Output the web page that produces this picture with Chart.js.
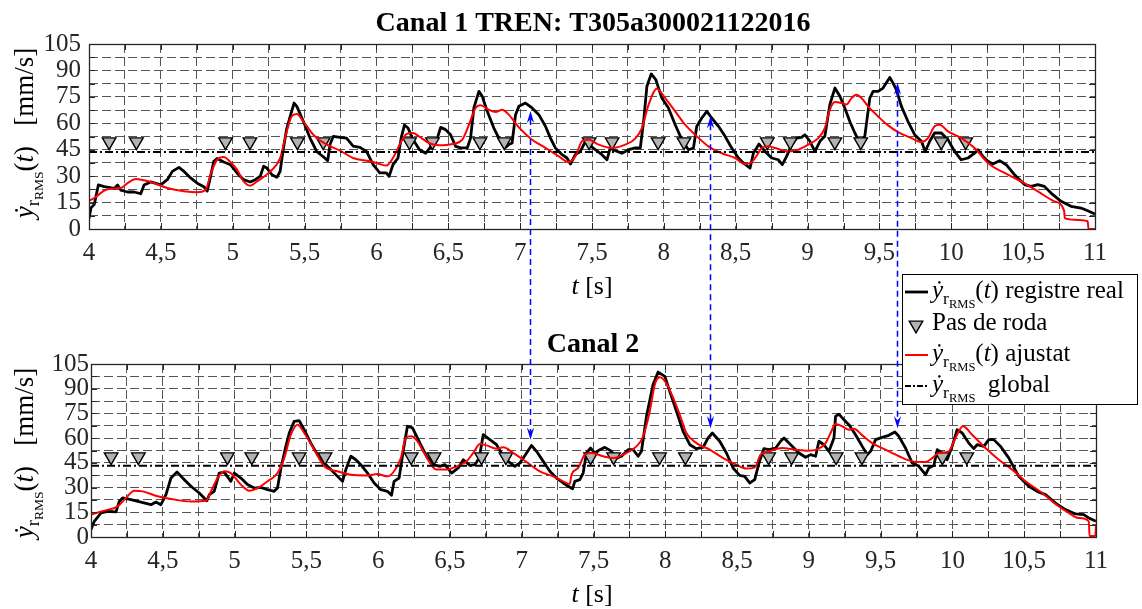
<!DOCTYPE html>
<html>
<head>
<meta charset="utf-8">
<script src="https://cdn.jsdelivr.net/npm/chart.js@4.4.0/dist/chart.umd.min.js"></script>
<style>
  html, body { margin: 0; padding: 0; background: #fff; }
  #wrap { position: relative; width: 1142px; height: 609px; }
  #wrap canvas { position: absolute; left: 0; top: 0; }
</style>
</head>
<body>
<div id="wrap">
  <canvas id="canal1" width="1142" height="609"></canvas>
  <canvas id="canal2" width="1142" height="609"></canvas>
</div>
<script>
// Canal 1: registre real (temps [s], velocitat RMS [mm/s])
const tReal1 = [4.000, 4.014, 4.037, 4.065, 4.106, 4.176, 4.199, 4.222, 4.268, 4.314, 4.360, 4.383, 4.430, 4.499, 4.545, 4.580, 4.626, 4.661, 4.707, 4.753, 4.799, 4.822, 4.841, 4.868, 4.891, 4.938, 4.984, 5.030, 5.076, 5.122, 5.157, 5.192, 5.215, 5.238, 5.273, 5.307, 5.330, 5.353, 5.376, 5.404, 5.427, 5.446, 5.492, 5.538, 5.584, 5.630, 5.661, 5.677, 5.700, 5.746, 5.792, 5.838, 5.885, 5.931, 5.977, 6.023, 6.069, 6.088, 6.115, 6.150, 6.173, 6.195, 6.220, 6.250, 6.277, 6.300, 6.343, 6.389, 6.424, 6.447, 6.481, 6.516, 6.551, 6.586, 6.632, 6.655, 6.678, 6.713, 6.736, 6.771, 6.817, 6.863, 6.894, 6.921, 6.944, 6.968, 6.991, 7.037, 7.083, 7.130, 7.176, 7.211, 7.245, 7.292, 7.326, 7.350, 7.384, 7.419, 7.454, 7.477, 7.523, 7.569, 7.604, 7.627, 7.662, 7.708, 7.755, 7.801, 7.836, 7.859, 7.882, 7.912, 7.944, 7.986, 8.032, 8.079, 8.125, 8.171, 8.206, 8.229, 8.264, 8.299, 8.333, 8.380, 8.426, 8.472, 8.519, 8.553, 8.600, 8.623, 8.662, 8.704, 8.750, 8.796, 8.824, 8.854, 8.889, 8.924, 8.958, 8.981, 9.016, 9.051, 9.086, 9.120, 9.155, 9.190, 9.225, 9.259, 9.294, 9.329, 9.363, 9.398, 9.433, 9.456, 9.491, 9.525, 9.572, 9.595, 9.618, 9.653, 9.699, 9.745, 9.792, 9.819, 9.850, 9.884, 9.931, 9.977, 10.023, 10.069, 10.116, 10.162, 10.185, 10.220, 10.255, 10.289, 10.336, 10.382, 10.440, 10.509, 10.556, 10.602, 10.648, 10.694, 10.764, 10.833, 10.903, 10.949, 11.000];
const yReal1 = [6, 12, 14, 25, 24, 23, 25, 22, 21, 21, 20, 25, 26.7, 25, 28, 32.7, 35, 32.7, 29, 26, 24, 21.5, 28, 38.4, 40, 38, 36.5, 31.8, 28, 26.7, 28, 30, 35.6, 34.6, 30.8, 29.3, 32.7, 46, 57, 65, 71.5, 69.6, 61, 51.6, 44, 41, 38.8, 47.9, 52.6, 52, 51.6, 47, 46.3, 44, 36.5, 31.8, 31.8, 29.9, 36.5, 40.3, 52, 59, 57.3, 51.6, 47.9, 45, 43, 47.9, 51.6, 57.7, 56.4, 53.5, 46.9, 46, 46, 51.6, 68.7, 78.1, 75.3, 66.8, 57.3, 49.8, 46, 47.9, 48.8, 64.9, 69.6, 71.5, 68.7, 64.9, 58.3, 51.6, 46, 42.2, 40.3, 36.9, 42.2, 44, 49.8, 48.2, 45, 42.2, 39.3, 46, 44.5, 43, 45, 46, 46, 61, 81, 88, 84.8, 74.3, 68.7, 59.2, 50.7, 45, 46, 58.3, 63, 66.8, 63, 58.3, 52.6, 46, 40.3, 37.5, 34.6, 43, 48.2, 44, 40.3, 39.3, 36.5, 41.2, 47.9, 51.6, 52, 53.5, 49.8, 44, 49.8, 52.6, 70.6, 80, 75.3, 68.7, 61, 54.5, 48.8, 52.6, 74.3, 78.1, 78.1, 80, 86, 82.8, 79, 69.6, 61, 53.5, 49.8, 44, 49.8, 54.5, 54.5, 50.7, 44, 39.3, 40.3, 43, 45, 41.2, 38.4, 36.9, 38.8, 36.5, 30.8, 25.2, 24.2, 25.2, 24.2, 20.4, 15.7, 12.9, 11.9, 10.4, 8.5];

// Canal 1: corba ajustada
const tFit1 = [4.000, 4.037, 4.106, 4.152, 4.222, 4.268, 4.326, 4.430, 4.545, 4.661, 4.753, 4.811, 4.845, 4.891, 4.938, 4.984, 5.030, 5.076, 5.122, 5.169, 5.261, 5.330, 5.376, 5.411, 5.446, 5.492, 5.561, 5.654, 5.746, 5.838, 5.954, 6.023, 6.069, 6.115, 6.162, 6.208, 6.254, 6.296, 6.366, 6.435, 6.528, 6.597, 6.644, 6.690, 6.725, 6.782, 6.829, 6.875, 6.921, 6.991, 7.083, 7.176, 7.269, 7.338, 7.384, 7.431, 7.477, 7.546, 7.639, 7.731, 7.801, 7.847, 7.894, 7.951, 8.009, 8.079, 8.148, 8.218, 8.310, 8.403, 8.495, 8.565, 8.611, 8.657, 8.681, 8.727, 8.773, 8.866, 8.935, 9.005, 9.074, 9.120, 9.155, 9.190, 9.236, 9.271, 9.306, 9.340, 9.375, 9.421, 9.491, 9.560, 9.630, 9.722, 9.792, 9.838, 9.884, 9.919, 9.977, 10.069, 10.162, 10.255, 10.394, 10.486, 10.602, 10.718, 10.785, 10.790, 10.856, 10.949, 10.955, 11.000];
const yFit1 = [16, 17.6, 21.8, 22.9, 23.3, 26, 28.4, 26.7, 23.3, 21.4, 20.8, 22.1, 30.8, 39.3, 40.9, 38, 33.7, 27, 24.6, 27, 32.7, 40.3, 55.4, 64, 65.3, 61, 53.5, 47.9, 44.5, 40.3, 38.4, 36.9, 36, 40.3, 47.9, 53.9, 54.5, 52.6, 48.8, 47.5, 48.2, 50.7, 59.2, 68.7, 70.2, 67.7, 66.4, 67.7, 64.9, 57.7, 50.7, 46, 41.2, 38, 41.2, 49.8, 50.7, 47.9, 46, 47.9, 51.3, 57.3, 70.6, 79.6, 74.3, 66.8, 59.2, 53.5, 46.9, 43, 40.3, 36.9, 38, 43, 46, 46.9, 46, 44, 45, 47.9, 51.6, 57.3, 67.7, 72.1, 71.5, 70.6, 74.3, 76.2, 74.3, 69.6, 63.9, 58.8, 55, 51.6, 49.4, 51.6, 58.3, 59.2, 55.4, 51.6, 46, 37.5, 30.8, 27, 21.4, 15.7, 10.4, 6.2, 5.3, 4.4, 0, 0];

// Canal 2: registre real
const tReal2 = [4.000, 4.023, 4.070, 4.116, 4.174, 4.197, 4.220, 4.278, 4.348, 4.418, 4.452, 4.487, 4.522, 4.557, 4.599, 4.650, 4.696, 4.754, 4.807, 4.824, 4.858, 4.893, 4.928, 4.974, 4.998, 5.044, 5.090, 5.137, 5.183, 5.230, 5.276, 5.299, 5.323, 5.357, 5.381, 5.415, 5.450, 5.485, 5.531, 5.578, 5.624, 5.671, 5.717, 5.752, 5.775, 5.810, 5.845, 5.879, 5.926, 5.972, 6.019, 6.065, 6.093, 6.111, 6.146, 6.176, 6.204, 6.239, 6.274, 6.291, 6.338, 6.384, 6.430, 6.465, 6.512, 6.558, 6.593, 6.639, 6.674, 6.704, 6.732, 6.778, 6.825, 6.871, 6.906, 6.952, 6.987, 7.034, 7.068, 7.103, 7.150, 7.196, 7.242, 7.289, 7.324, 7.354, 7.370, 7.405, 7.428, 7.451, 7.479, 7.509, 7.544, 7.579, 7.625, 7.660, 7.695, 7.741, 7.776, 7.811, 7.834, 7.869, 7.915, 7.950, 7.997, 8.031, 8.078, 8.124, 8.171, 8.217, 8.263, 8.298, 8.328, 8.379, 8.426, 8.472, 8.518, 8.553, 8.588, 8.623, 8.653, 8.687, 8.722, 8.769, 8.803, 8.827, 8.861, 8.896, 8.931, 8.977, 9.012, 9.047, 9.070, 9.105, 9.140, 9.175, 9.186, 9.209, 9.244, 9.279, 9.325, 9.372, 9.407, 9.430, 9.465, 9.511, 9.557, 9.599, 9.627, 9.673, 9.720, 9.766, 9.813, 9.836, 9.871, 9.894, 9.929, 9.963, 9.998, 10.033, 10.068, 10.114, 10.149, 10.172, 10.219, 10.253, 10.288, 10.335, 10.393, 10.462, 10.532, 10.590, 10.648, 10.718, 10.787, 10.857, 10.915, 10.950, 11.000];
const yReal2 = [4.5, 9.5, 14.6, 15.6, 15.2, 21.6, 23.7, 22.7, 21.2, 19.6, 21.2, 19.6, 25.7, 35.8, 39.4, 34.8, 30.8, 26.7, 22, 25.7, 27.7, 38.8, 39.4, 33.8, 38.8, 35.8, 31.8, 29.7, 30.1, 28.7, 27.7, 29.7, 41.9, 55, 63.1, 70.2, 70.6, 65.1, 57, 50, 44.9, 40.9, 36.8, 33.8, 40.9, 49, 46.9, 43.9, 38.8, 32.8, 28.7, 27.7, 25.3, 33.8, 35.8, 53, 67.2, 66.2, 60.1, 57, 49, 43.9, 42.9, 43.9, 38.8, 41.9, 46.9, 43.5, 43.9, 47.9, 62.1, 59.1, 56, 49, 45.9, 42.9, 44.9, 51, 55.6, 52, 45.9, 39.9, 35.8, 32.8, 30.8, 29.3, 33.8, 34.8, 38.8, 51, 54, 51, 53, 54.4, 52, 47.9, 49, 53, 53, 49, 52, 73.2, 92.5, 100.1, 97.5, 88.4, 76.3, 64.1, 56, 53.6, 54.4, 60.1, 63.1, 58.1, 51, 41.9, 37.4, 36.8, 32.8, 34.8, 45, 53.6, 53, 54, 58.1, 60.1, 57, 54, 51, 48.4, 50, 49, 58.1, 56, 52, 60.1, 73.2, 74.6, 71.2, 68.2, 62.1, 55, 50, 52, 59.1, 60.5, 61.7, 63.7, 61.1, 54, 44.9, 42.9, 37.8, 41.9, 43.5, 53, 51, 46.9, 55, 65.1, 63.1, 57, 53.6, 56, 55, 59.1, 59.1, 55, 47.9, 36.8, 30.8, 27.7, 25.7, 20.6, 16.6, 14, 13.6, 11.5, 9.5];

// Canal 2: corba ajustada
const tFit2 = [4.000, 4.093, 4.186, 4.244, 4.302, 4.360, 4.464, 4.580, 4.696, 4.800, 4.835, 4.882, 4.928, 4.974, 5.044, 5.102, 5.160, 5.230, 5.299, 5.346, 5.392, 5.439, 5.485, 5.555, 5.624, 5.717, 5.810, 5.926, 5.995, 6.065, 6.111, 6.158, 6.193, 6.227, 6.274, 6.320, 6.407, 6.477, 6.546, 6.616, 6.662, 6.709, 6.755, 6.825, 6.871, 6.941, 7.034, 7.126, 7.219, 7.289, 7.335, 7.347, 7.393, 7.440, 7.486, 7.567, 7.637, 7.730, 7.799, 7.846, 7.892, 7.927, 7.962, 8.006, 8.055, 8.101, 8.147, 8.217, 8.310, 8.403, 8.495, 8.565, 8.623, 8.664, 8.722, 8.815, 8.908, 9.001, 9.070, 9.117, 9.151, 9.186, 9.233, 9.279, 9.314, 9.372, 9.441, 9.534, 9.627, 9.720, 9.813, 9.859, 9.905, 9.975, 10.021, 10.073, 10.137, 10.230, 10.323, 10.416, 10.509, 10.625, 10.718, 10.810, 10.880, 10.950, 10.955, 10.995, 11.000];
const yFit2 = [13.6, 16, 18.6, 23.7, 28.1, 27.7, 24.7, 22.7, 21.6, 22, 27.7, 35.8, 39.9, 38.8, 31.8, 28.1, 29.7, 33.8, 38.8, 47.9, 62.1, 68.2, 63.1, 53, 42.9, 39.9, 37.8, 37.4, 38.2, 36.8, 39.9, 47.9, 60.1, 61.1, 58.1, 51, 40.9, 40.9, 42.9, 45.9, 51, 56.4, 55.6, 53.6, 54.4, 51, 45.5, 39.9, 36.8, 33.8, 32.2, 37.8, 41.9, 50, 51, 49, 47.9, 51, 55, 61.1, 76.3, 92.5, 96.9, 93.5, 84.4, 74.2, 63.1, 57, 53, 47.9, 43.9, 41.5, 42.3, 50, 52, 54, 53, 52.4, 53.6, 57, 63.1, 68.6, 67.2, 65.1, 65.7, 61.7, 57, 53, 49, 45.9, 45.5, 47.9, 51, 52, 60.1, 67.2, 62.1, 54, 46.9, 40.9, 33.8, 26.7, 20, 14.6, 11.5, 9.5, 0.6, 0.6, 7.5];

// pas de roda (instants) i nivell on es marquen
const wheelT = [4.14, 4.33, 4.95, 5.12, 5.45, 5.63, 6.23, 6.39, 6.72, 6.89, 7.48, 7.64, 7.96, 8.14, 8.72, 8.88, 9.19, 9.37, 9.93, 10.10];
const wheelLevel = [49.5, 48.7];

// valor RMS global de cada canal
const globalRms = [43.7, 43.3];

// fletxes que relacionen els pics dels dos canals
const arrowT = [7.07, 8.32, 9.62];
const arrowFrom = [67, 64, 83];
const arrowTo = [59, 66, 66];

const SERIF = '"Liberation Serif", "DejaVu Serif", serif';
const INK = '#262626';

const pts = (ts, ys) => ts.map((t, i) => ({ x: t, y: ys[i] }));

// ---- rich text helpers (y punt amb subindex r_RMS) ----
function runsWidth(ctx, runs) {
  let w = 0;
  for (const r of runs) {
    ctx.font = `${r[2] || ''} ${r[1]}px ${SERIF}`;
    w += ctx.measureText(r[0]).width;
  }
  return w;
}
function drawRuns(ctx, runs, x, y) {
  let cx = x;
  for (const r of runs) {
    ctx.font = `${r[2] || ''} ${r[1]}px ${SERIF}`;
    ctx.fillText(r[0], cx, y + (r[3] || 0));
    cx += ctx.measureText(r[0]).width;
  }
}
const yDot = (s) => [
  ['ẏ', s, 'italic', 0],
  ['r', s * 0.7, '', s * 0.22],
  ['RMS', s * 0.5, '', s * 0.38]
];

function drawAxisTexts(ctx, chart, title, yCenter, titleY) {
  const a = chart.chartArea;
  ctx.save();
  ctx.fillStyle = '#000';
  ctx.textBaseline = 'alphabetic';
  ctx.textAlign = 'center';
  ctx.font = `bold 28px ${SERIF}`;
  ctx.fillText(title, 593, titleY);

  ctx.textAlign = 'left';
  const xl = [['t', 26, 'italic'], [' [s]', 26, '']];
  drawRuns(ctx, xl, 592 - runsWidth(ctx, xl) / 2, a.bottom + 65);

  const yl = [...yDot(27), ['(', 27, ''], ['t', 27, 'italic'], [')', 27, ''], ['   [mm/s]', 27, '']];
  ctx.translate(33, yCenter);
  ctx.rotate(-Math.PI / 2);
  drawRuns(ctx, yl, -runsWidth(ctx, yl) / 2, 0);
  ctx.restore();
}

// caixa dels eixos amb marques cap a dins
const axesFrame = {
  id: 'axesFrame',
  afterDatasetsDraw(chart) {
    const { ctx, chartArea: a, scales: { x, y } } = chart;
    ctx.save();
    ctx.strokeStyle = INK;
    ctx.lineWidth = 1;
    ctx.beginPath();
    x.ticks.forEach(tk => {
      const px = Math.round(x.getPixelForValue(tk.value)) + 0.5;
      ctx.moveTo(px, a.bottom); ctx.lineTo(px, a.bottom - 6);
      ctx.moveTo(px, a.top); ctx.lineTo(px, a.top + 6);
    });
    y.ticks.forEach(tk => {
      const py = Math.round(y.getPixelForValue(tk.value)) + 0.5;
      ctx.moveTo(a.left, py); ctx.lineTo(a.left + 6, py);
      ctx.moveTo(a.right, py); ctx.lineTo(a.right - 6, py);
    });
    ctx.stroke();
    ctx.lineWidth = 1.3;
    ctx.strokeRect(Math.round(a.left) + 0.5, Math.round(a.top) + 0.5, Math.round(a.width), Math.round(a.height));
    ctx.restore();
  }
};

function datasets(tr, yr, tf, yf, k) {
  return [
    { label: 'registre real', data: pts(tr, yr), borderColor: '#000', borderWidth: 2.8,
      pointRadius: 0, borderJoinStyle: 'round', order: 4 },
    { label: 'Pas de roda', data: wheelT.map(t => ({ x: t, y: wheelLevel[k] })), showLine: false,
      pointStyle: 'triangle', rotation: 180, pointRadius: 7.8, pointBackgroundColor: '#b3b3b3',
      pointBorderColor: '#000', pointBorderWidth: 1.4, order: 3 },
    { label: 'ajustat', data: pts(tf, yf), borderColor: '#ff0000', borderWidth: 2,
      pointRadius: 0, cubicInterpolationMode: 'monotone', order: 2 },
    { label: 'global', data: [{ x: 4, y: globalRms[k] }, { x: 11, y: globalRms[k] }],
      borderColor: '#000', borderWidth: 2, borderDash: [8, 3, 2, 3], pointRadius: 0, order: 1 }
  ];
}

function options(pad, yWidth, yPad) {
  return {
    responsive: false,
    devicePixelRatio: 1,
    animation: false,
    events: [],
    layout: { padding: pad },
    plugins: { legend: { display: false }, tooltip: { enabled: false } },
    scales: {
      x: {
        type: 'linear', min: 4, max: 11,
        afterFit: s => { s.height = 40; },
        grid: { color: '#555', lineWidth: 1, drawTicks: false },
        border: { display: false, dash: [9, 4] },
        ticks: {
          stepSize: 0.25, autoSkip: false, maxRotation: 0, padding: 9, color: INK,
          font: { family: SERIF, size: 25 },
          callback: v => (v % 0.5 === 0 ? String(v).replace('.', ',') : '')
        }
      },
      y: {
        min: 0, max: 105,
        afterFit: s => { s.width = yWidth; },
        grid: { color: '#555', lineWidth: 1, drawTicks: false },
        border: { display: false, dash: [9, 4] },
        ticks: {
          stepSize: 7.5, autoSkip: false, padding: yPad, color: INK,
          font: { family: SERIF, size: 25 },
          callback: v => (v % 15 === 0 ? String(v) : '')
        }
      }
    }
  };
}

const chart1 = new Chart(document.getElementById('canal1'), {
  type: 'line',
  data: { datasets: datasets(tReal1, yReal1, tFit1, yFit1, 0) },
  options: options({ top: 44, right: 47, bottom: 340, left: 0 }, 89, 8),
  plugins: [axesFrame, {
    id: 'texts1',
    afterDraw(chart) {
      drawAxisTexts(chart.ctx, chart, 'Canal 1 TREN: T305a300021122016', 133, 31);
    }
  }]
});

function drawHead(ctx, x, y, dir) {
  ctx.beginPath();
  ctx.moveTo(x, y);
  ctx.lineTo(x - 3.6, y + dir * 12);
  ctx.lineTo(x, y + dir * 8);
  ctx.lineTo(x + 3.6, y + dir * 12);
  ctx.closePath();
  ctx.fill();
}

function drawLegend(ctx) {
  const x0 = 902, y0 = 274, w = 235, h = 130;
  ctx.save();
  ctx.fillStyle = '#fff';
  ctx.fillRect(x0, y0, w, h);
  ctx.strokeStyle = '#000';
  ctx.lineWidth = 1;
  ctx.strokeRect(x0 + 0.5, y0 + 0.5, w, h);

  const rows = [292, 323, 355, 386];
  const lx0 = 905, lx1 = 928, tx = 932;
  ctx.lineWidth = 2.8;
  ctx.strokeStyle = '#000';
  ctx.beginPath(); ctx.moveTo(lx0, rows[0]); ctx.lineTo(lx1, rows[0]); ctx.stroke();

  ctx.fillStyle = '#b3b3b3';
  ctx.lineWidth = 1.4;
  Chart.helpers.drawPoint(ctx, { pointStyle: 'triangle', rotation: 180, radius: 7.8, borderWidth: 1.4 }, 916, rows[1] + 2);

  ctx.strokeStyle = '#ff0000';
  ctx.lineWidth = 2;
  ctx.beginPath(); ctx.moveTo(lx0, rows[2]); ctx.lineTo(lx1, rows[2]); ctx.stroke();

  ctx.strokeStyle = '#000';
  ctx.setLineDash([6, 2, 2, 2]);
  ctx.beginPath(); ctx.moveTo(lx0, rows[3]); ctx.lineTo(lx1, rows[3]); ctx.stroke();
  ctx.setLineDash([]);

  ctx.fillStyle = '#000';
  ctx.textAlign = 'left';
  ctx.textBaseline = 'alphabetic';
  const s = 25;
  drawRuns(ctx, [...yDot(s), ['(', s, ''], ['t', s, 'italic'], [') registre real', s, '']], tx, rows[0] + 6);
  drawRuns(ctx, [['Pas de roda', s, '']], tx, rows[1] + 7);
  drawRuns(ctx, [...yDot(s), ['(', s, ''], ['t', s, 'italic'], [') ajustat', s, '']], tx, rows[2] + 6);
  drawRuns(ctx, [...yDot(s), ['  global', s, '']], tx, rows[3] + 6);
  ctx.restore();
}

const chart2 = new Chart(document.getElementById('canal2'), {
  type: 'line',
  data: { datasets: datasets(tReal2, yReal2, tFit2, yFit2, 1) },
  options: options({ top: 364, right: 46, bottom: 32, left: 0 }, 91, 2),
  plugins: [axesFrame, {
    id: 'texts2',
    afterDraw(chart) {
      const ctx = chart.ctx;
      drawAxisTexts(ctx, chart, 'Canal 2', 453, 352);

      // fletxes blaves entre els dos canals
      const xs = chart1.scales.x, ys1 = chart1.scales.y, ys2 = chart.scales.y;
      ctx.save();
      ctx.strokeStyle = '#0000ff';
      ctx.fillStyle = '#0000ff';
      ctx.lineWidth = 1.5;
      arrowT.forEach((t, i) => {
        const x = Math.round(xs.getPixelForValue(t)) + 0.5;
        const yA = ys1.getPixelForValue(arrowFrom[i]);
        const yB = ys2.getPixelForValue(arrowTo[i]);
        ctx.setLineDash([6, 4]);
        ctx.beginPath(); ctx.moveTo(x, yA + 8); ctx.lineTo(x, yB - 8); ctx.stroke();
        ctx.setLineDash([]);
        drawHead(ctx, x, yA, 1);
        drawHead(ctx, x, yB, -1);
      });
      ctx.restore();

      drawLegend(ctx);
    }
  }]
});
</script>
</body>
</html>
